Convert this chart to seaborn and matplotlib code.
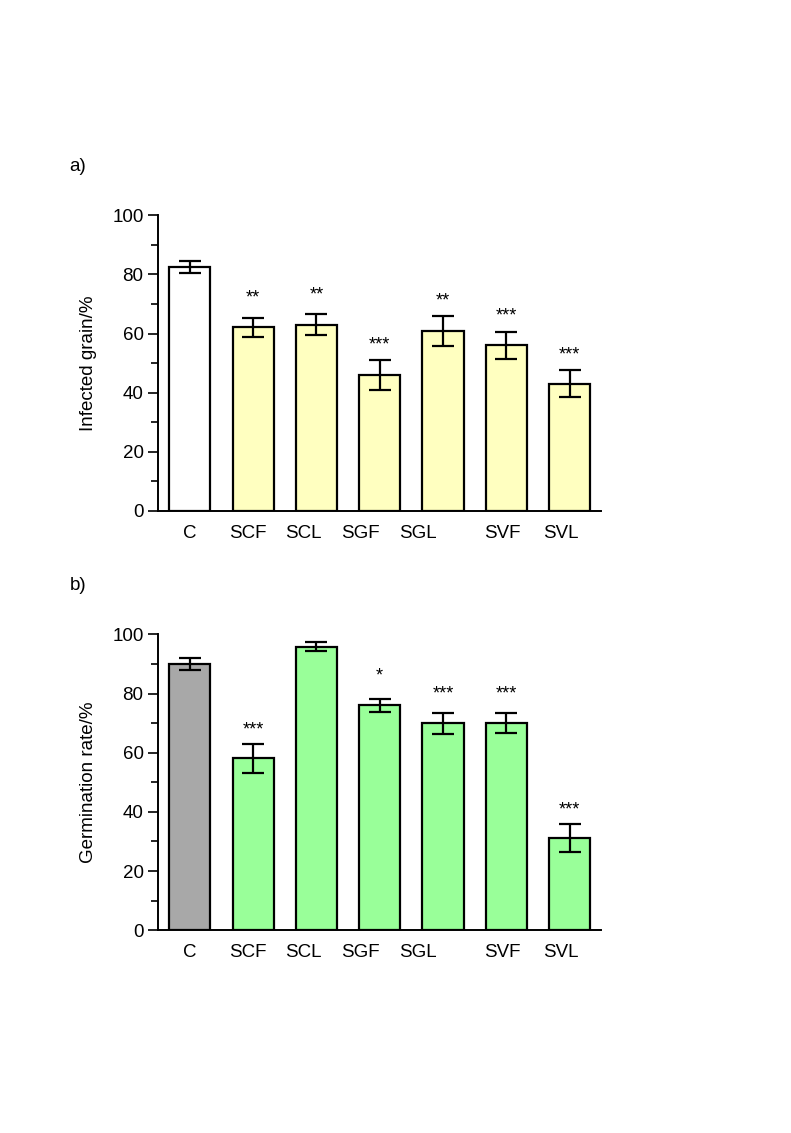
import numpy as np
import pandas as pd
import matplotlib
matplotlib.use('Agg')
import matplotlib.pyplot as plt
import seaborn as sns
from matplotlib.ticker import MultipleLocator

# treatments
groups = ['C', 'SCF', 'SCL', 'SGF', 'SGL', 'SVF', 'SVL']

# a) infected grain (%)
infected = [82.6, 62.1, 63.0, 45.9, 61.0, 56.0, 43.0]
infected_err = [2.1, 3.3, 3.5, 5.0, 5.1, 4.5, 4.6]
infected_sig = ['', '**', '**', '***', '**', '***', '***']
infected_sig_y = [None, 72.1, 73.1, 56.0, 70.9, 65.8, 52.8]

# b) germination rate (%)
germ = [90.0, 58.1, 95.9, 76.0, 70.0, 70.0, 31.1]
germ_err = [2.0, 4.8, 1.6, 2.2, 3.6, 3.3, 4.8]
germ_sig = ['', '***', '', '*', '***', '***', '***']
germ_sig_y = [None, 67.8, None, 86.0, 79.8, 79.8, 40.8]

# tick labels in the original sit a bit off the bar centres
label_pos = [0.0, 0.91, 1.80, 2.70, 3.60, 4.94, 5.87]

sns.set_theme(style='ticks')
plt.rcParams['font.family'] = ['Liberation Sans', 'DejaVu Sans']
plt.rcParams['font.size'] = 13
plt.rcParams['text.color'] = 'black'
plt.rcParams['axes.labelcolor'] = 'black'
plt.rcParams['xtick.color'] = 'black'
plt.rcParams['ytick.color'] = 'black'


def panel(ax, values, errs, sig, sig_y, colors, ylabel, tag):
    df = pd.DataFrame({'group': groups, 'value': values})
    sns.barplot(data=df, x='group', y='value', hue='group', palette=colors,
                width=0.65, edgecolor='black', linewidth=1.6, legend=False,
                saturation=1, errorbar=None, ax=ax)
    ax.errorbar(np.arange(len(groups)), values, yerr=errs, fmt='none',
                ecolor='black', elinewidth=1.6, capsize=8, capthick=1.6)
    for i, (s, y) in enumerate(zip(sig, sig_y)):
        if s:
            ax.text(i, y, s, ha='center', va='center', fontsize=13)
    ax.set_xlim(-0.5, 6.5)
    ax.set_ylim(0, 100)
    ax.yaxis.set_major_locator(MultipleLocator(20))
    ax.yaxis.set_minor_locator(MultipleLocator(10))
    ax.tick_params(axis='y', which='major', length=7, width=1.2, labelsize=13.5, direction='out')
    ax.tick_params(axis='y', which='minor', length=5, width=1.2, direction='out')
    ax.tick_params(axis='x', length=0, labelsize=13.5, pad=10)
    ax.set_xticks(label_pos)
    ax.set_xticklabels(groups)
    ax.set_xlabel('')
    ax.set_ylabel(ylabel, fontsize=13.5, labelpad=11)
    for side in ['top', 'right']:
        ax.spines[side].set_visible(False)
    for side in ['left', 'bottom']:
        ax.spines[side].set_linewidth(1.4)
        ax.spines[side].set_color('black')
    ax.text(-0.2, 1.166, tag, transform=ax.transAxes, fontsize=13.5, ha='left', va='center')


fig = plt.figure(figsize=(7.91, 11.33), dpi=100)
ax1 = fig.add_axes([0.2, 0.549, 0.56, 0.261])
ax2 = fig.add_axes([0.2, 0.179, 0.56, 0.261])

panel(ax1, infected, infected_err, infected_sig, infected_sig_y,
      ['#ffffff'] + ['#ffffc0'] * 6, 'Infected grain/%', 'a)')
panel(ax2, germ, germ_err, germ_sig, germ_sig_y,
      ['#a8a8a8'] + ['#99ff99'] * 6, 'Germination rate/%', 'b)')

fig.savefig('out.png', dpi=100, facecolor='white')
